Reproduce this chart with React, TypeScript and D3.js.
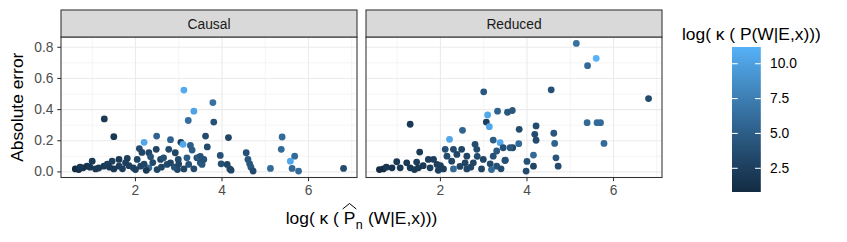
import { useEffect, useRef } from 'react';
import * as d3 from 'd3';

// facet labels and tick values
const facets = ['Causal', 'Reduced'];
const xTicks = [2, 4, 6];
const yTicks = [0, 0.2, 0.4, 0.6, 0.8];
const colourTicks = [2.5, 5, 7.5, 10];

// Causal panel: log kappa(P_n) , absolute error, log kappa(P)
const causalX = [
  3.12, 3.79, 3.35, 3.22, 3.81, 1.28, 1.5, 2.49, 2.2, 2.81, 3.05, 3.1, 3.62, 3.66, 3.27, 3.31,
  2.48, 2.09, 2.15, 2.31, 2.35, 2.77, 2.92, 2.99, 3.19, 3.42, 3.48, 3.5, 3.54, 3.23, 3.35, 2.97,
  2.73, 2.58, 2.65, 2.31, 2.12, 1.95, 1.81, 1.77, 1.62, 1.62, 1.46, 1.5, 1.27, 1.35, 1.0, 1.08,
  0.88, 0.79, 0.61, 0.69, 0.72, 0.95, 2.04, 2.5, 2.81, 3.12, 3.58, 1.7, 1.85, 2.2, 2.4, 2.6,
  2.9, 1.4, 1.15, 2.0, 2.25, 3.0, 3.5, 3.96, 3.98, 4.12, 4.15, 4.18, 4.21, 4.56, 4.6, 4.64,
  4.67, 4.72, 5.12, 5.39, 5.37, 5.68, 5.58, 5.62, 5.77, 6.81,
];
const causalY = [
  0.525, 0.445, 0.39, 0.33, 0.32, 0.34, 0.226, 0.23, 0.19, 0.207, 0.19, 0.177, 0.23, 0.16, 0.17, 0.14,
  0.145, 0.15, 0.125, 0.123, 0.097, 0.145, 0.123, 0.08, 0.09, 0.09, 0.095, 0.058, 0.048, 0.048, 0.02, 0.015,
  0.048, 0.08, 0.09, 0.026, 0.037, 0.026, 0.086, 0.058, 0.037, 0.08, 0.069, 0.019, 0.037, 0.05, 0.069, 0.019,
  0.037, 0.026, 0.019, 0.015, 0.03, 0.03, 0.08, 0.015, 0.058, 0.019, 0.08, 0.02, 0.04, 0.05, 0.06, 0.03,
  0.03, 0.03, 0.025, 0.015, 0.01, 0.05, 0.1, 0.106, 0.052, 0.048, 0.22, 0.019, 0.011, 0.123, 0.08, 0.052,
  0.03, 0.005, 0.022, 0.224, 0.145, 0.101, 0.069, 0.022, 0.005, 0.022,
];
const causalC = [
  10.8, 6.5, 10.2, 6.3, 4.0, 2.0, 2.0, 5.5, 10.5, 5.5, 2.5, 10.5, 3.5, 3.5, 5.0, 5.0,
  3.0, 3.5, 3.0, 3.0, 4.0, 3.5, 3.0, 3.5, 5.0, 4.0, 5.5, 4.0, 4.5, 4.0, 3.5, 3.0,
  3.5, 3.0, 4.0, 6.0, 3.0, 2.5, 2.5, 2.5, 2.5, 2.0, 2.5, 2.0, 2.0, 2.5, 2.0, 2.0,
  1.5, 1.2, 0.8, 1.0, 1.8, 1.8, 3.0, 3.0, 3.0, 3.0, 4.0, 2.5, 2.5, 3.0, 3.5, 3.0,
  4.0, 2.0, 2.0, 2.5, 2.0, 3.0, 4.0, 4.0, 4.0, 3.0, 3.0, 3.5, 3.0, 4.0, 4.5, 4.5,
  4.5, 3.5, 6.0, 6.0, 6.0, 6.0, 10.5, 6.0, 6.0, 3.5,
];

// Reduced panel
const reducedX = [
  3.0, 3.32, 3.55, 3.66, 3.09, 3.06, 3.13, 3.82, 1.3, 2.51, 2.21, 3.22, 3.38, 5.14, 5.6, 5.4,
  4.56, 6.81, 5.39, 5.62, 5.7, 4.21, 4.18, 4.21, 4.62, 4.64, 3.81, 3.67, 5.78, 4.15, 4.67, 4.0,
  4.15, 4.72, 3.98, 3.5, 3.61, 3.45, 2.11, 2.3, 2.49, 2.8, 2.84, 1.52, 2.15, 2.38, 2.61, 3.22,
  3.3, 2.99, 3.49, 0.99, 1.45, 1.72, 1.84, 1.92, 2.26, 2.57, 2.76, 3.15, 3.3, 2.3, 3.18, 2.95,
  2.61, 2.07, 1.76, 1.49, 1.3, 1.07, 0.88, 0.68, 0.59, 1.22, 0.75, 1.6, 2.0, 2.45, 2.7, 2.85,
  1.95, 1.4, 3.4,
];
const reducedY = [
  0.514, 0.39, 0.383, 0.394, 0.366, 0.32, 0.29, 0.273, 0.306, 0.267, 0.209, 0.204, 0.187, 0.825, 0.729, 0.682,
  0.527, 0.471, 0.316, 0.316, 0.316, 0.295, 0.241, 0.203, 0.248, 0.183, 0.181, 0.155, 0.183, 0.108, 0.09, 0.067,
  0.037, 0.037, 0.005, 0.075, 0.155, 0.155, 0.145, 0.145, 0.145, 0.177, 0.145, 0.127, 0.101, 0.112, 0.101, 0.101,
  0.134, 0.08, 0.073, 0.065, 0.063, 0.08, 0.08, 0.048, 0.069, 0.058, 0.058, 0.052, 0.037, 0.019, 0.015, 0.019,
  0.019, 0.019, 0.026, 0.026, 0.026, 0.026, 0.026, 0.019, 0.015, 0.058, 0.03, 0.04, 0.04, 0.035, 0.03, 0.1,
  0.01, 0.015, 0.02,
];
const reducedC = [
  4.5, 5.5, 4.5, 4.5, 10.5, 2.5, 10.5, 3.5, 2.0, 5.5, 10.5, 5.0, 10.5, 6.5, 11.2, 6.0,
  4.0, 3.5, 6.0, 6.0, 6.0, 3.5, 3.5, 3.5, 4.5, 5.5, 6.0, 3.0, 6.0, 6.0, 4.5, 4.0,
  3.0, 3.5, 3.5, 4.0, 4.5, 4.0, 4.0, 3.5, 3.0, 3.5, 3.5, 2.0, 3.5, 3.0, 3.0, 4.0,
  4.5, 3.0, 4.0, 2.0, 2.5, 2.5, 2.5, 2.5, 3.0, 3.0, 3.0, 3.5, 4.0, 6.0, 6.0, 3.0,
  3.0, 2.5, 2.5, 2.0, 2.0, 2.0, 1.5, 1.0, 0.8, 2.0, 1.8, 2.0, 2.5, 3.0, 3.0, 3.5,
  2.5, 2.0, 3.5,
];

const W = 847;
const H = 242;
const FONT = '"Liberation Sans", Arial, Helvetica, sans-serif';
const SMALL = '13.8px';
const BIG = '17.4px';
const NB = '\u00A0';

export default function App() {
  const svgRef = useRef<SVGSVGElement>(null);

  useEffect(() => {
    if (!svgRef.current) return;
    const svg = d3.select(svgRef.current);
    svg.selectAll('*').remove();

    const panels = [
      { name: facets[0], xs: causalX, ys: causalY, cs: causalC },
      { name: facets[1], xs: reducedX, ys: reducedY, cs: reducedC },
    ];

    const allX = [...causalX, ...reducedX];
    const allY = [...causalY, ...reducedY];
    const allC = [...causalC, ...reducedC];

    const expand = (ext: [number, number]) => {
      const pad = (ext[1] - ext[0]) * 0.05;
      return [ext[0] - pad, ext[1] + pad];
    };

    const panelLeft = 61;
    const panelW = 296;
    const gap = 9;
    const stripTop = 10;
    const panelTop = 37;
    const panelBottom = 177.5;

    const x = d3.scaleLinear()
      .domain(expand(d3.extent(allX) as [number, number]))
      .range([0, panelW]);
    const y = d3.scaleLinear()
      .domain(expand(d3.extent(allY) as [number, number]))
      .range([panelBottom, panelTop]);
    const cExt = d3.extent(allC) as [number, number];
    const colour = d3.scaleLinear<string>()
      .domain(cExt)
      .range(['#132B43', '#56B1F7'])
      .interpolate(d3.interpolateLab);

    const xMinor = [1, 3, 5, 7];
    const yMinor = [0.1, 0.3, 0.5, 0.7];

    panels.forEach((p, i) => {
      const ox = panelLeft + i * (panelW + gap);
      const g = svg.append('g').attr('transform', `translate(${ox},0)`);

      g.append('rect')
        .attr('x', 0).attr('y', panelTop)
        .attr('width', panelW).attr('height', panelBottom - panelTop)
        .attr('fill', 'white');

      // minor grid
      xMinor.filter(v => x(v) > 0 && x(v) < panelW).forEach(v => {
        g.append('line')
          .attr('x1', x(v)).attr('x2', x(v))
          .attr('y1', panelTop).attr('y2', panelBottom)
          .attr('stroke', '#EBEBEB').attr('stroke-width', 0.55);
      });
      yMinor.forEach(v => {
        g.append('line')
          .attr('x1', 0).attr('x2', panelW)
          .attr('y1', y(v)).attr('y2', y(v))
          .attr('stroke', '#EBEBEB').attr('stroke-width', 0.55);
      });
      // major grid
      xTicks.forEach(v => {
        g.append('line')
          .attr('x1', x(v)).attr('x2', x(v))
          .attr('y1', panelTop).attr('y2', panelBottom)
          .attr('stroke', '#EBEBEB').attr('stroke-width', 1.1);
      });
      yTicks.forEach(v => {
        g.append('line')
          .attr('x1', 0).attr('x2', panelW)
          .attr('y1', y(v)).attr('y2', y(v))
          .attr('stroke', '#EBEBEB').attr('stroke-width', 1.1);
      });

      // points
      p.xs.forEach((xv, j) => {
        g.append('circle')
          .attr('cx', x(xv))
          .attr('cy', y(p.ys[j]))
          .attr('r', 3.4)
          .attr('fill', colour(p.cs[j]));
      });

      // border
      g.append('rect')
        .attr('x', 0).attr('y', panelTop)
        .attr('width', panelW).attr('height', panelBottom - panelTop)
        .attr('fill', 'none').attr('stroke', '#333333').attr('stroke-width', 1.07);

      // strip
      g.append('rect')
        .attr('x', 0).attr('y', stripTop)
        .attr('width', panelW).attr('height', panelTop - stripTop)
        .attr('fill', '#D9D9D9').attr('stroke', '#333333').attr('stroke-width', 1.07);
      g.append('text')
        .attr('x', panelW / 2).attr('y', (stripTop + panelTop) / 2 + 0.5)
        .attr('text-anchor', 'middle').attr('dominant-baseline', 'central')
        .attr('font-size', SMALL).attr('fill', '#1A1A1A')
        .text(p.name);

      // x axis
      xTicks.forEach(v => {
        g.append('line')
          .attr('x1', x(v)).attr('x2', x(v))
          .attr('y1', panelBottom).attr('y2', panelBottom + 3.7)
          .attr('stroke', '#333333').attr('stroke-width', 1.07);
        g.append('text')
          .attr('x', x(v)).attr('y', panelBottom + 17)
          .attr('text-anchor', 'middle')
          .attr('font-size', SMALL).attr('fill', '#4D4D4D')
          .text(d3.format('d')(v));
      });

      // y axis on first panel only
      if (i === 0) {
        yTicks.forEach(v => {
          g.append('line')
            .attr('x1', -3.7).attr('x2', 0)
            .attr('y1', y(v)).attr('y2', y(v))
            .attr('stroke', '#333333').attr('stroke-width', 1.07);
          g.append('text')
            .attr('x', -7.5).attr('y', y(v))
            .attr('text-anchor', 'end').attr('dominant-baseline', 'central')
            .attr('font-size', SMALL).attr('fill', '#4D4D4D')
            .text(d3.format('.1f')(v));
        });
      }
    });

    // y title
    svg.append('text')
      .attr('transform', `translate(23,${(panelTop + panelBottom) / 2}) rotate(-90)`)
      .attr('text-anchor', 'middle')
      .attr('font-size', BIG).attr('fill', 'black')
      .text('Absolute error');

    // x title with hat-P and subscript n
    const cx = panelLeft + (2 * panelW + gap) / 2;
    const base = 224;
    const xt = svg.append('g').attr('font-size', BIG).attr('fill', 'black');
    const t1 = xt.append('text').attr('y', base).text(`log(${NB}\u03BA${NB}(${NB}`);
    const tP = xt.append('text').attr('y', base).text('P');
    const tn = xt.append('text').attr('y', base + 4.5).attr('font-size', '12.5px').text('n');
    const t3 = xt.append('text').attr('y', base).text(`${NB}(W|E,x)))`);
    const w1 = (t1.node() as SVGTextElement).getComputedTextLength();
    const wP = (tP.node() as SVGTextElement).getComputedTextLength();
    const wn = (tn.node() as SVGTextElement).getComputedTextLength();
    const w3 = (t3.node() as SVGTextElement).getComputedTextLength();
    const total = w1 + wP + wn + 1 + w3;
    let sx = cx - total / 2;
    t1.attr('x', sx); sx += w1;
    const px = sx;
    tP.attr('x', sx); sx += wP;
    tn.attr('x', sx + 0.5); sx += wn + 1;
    t3.attr('x', sx);
    xt.append('path')
      .attr('d', `M${px - 1},${base - 15} L${px + wP / 2},${base - 20.5} L${px + wP + 1},${base - 15}`)
      .attr('fill', 'none').attr('stroke', 'black').attr('stroke-width', 1);

    // legend
    const barX = 732;
    const barW = 28.8;
    const barTop = 47;
    const barBottom = 192;
    svg.append('text')
      .attr('x', 682).attr('y', 40)
      .attr('font-size', BIG).attr('fill', 'black')
      .text(`log(${NB}\u03BA${NB}(${NB}P(W|E,x)))`);

    const defs = svg.append('defs');
    const grad = defs.append('linearGradient')
      .attr('id', 'cbar').attr('x1', 0).attr('x2', 0).attr('y1', 1).attr('y2', 0);
    d3.range(0, 1.0001, 0.05).forEach(t => {
      grad.append('stop')
        .attr('offset', t)
        .attr('stop-color', colour(cExt[0] + t * (cExt[1] - cExt[0])));
    });
    svg.append('rect')
      .attr('x', barX).attr('y', barTop)
      .attr('width', barW).attr('height', barBottom - barTop)
      .attr('fill', 'url(#cbar)');

    const cy = d3.scaleLinear().domain(cExt).range([barBottom, barTop]);
    colourTicks.forEach(v => {
      svg.append('line')
        .attr('x1', barX).attr('x2', barX + barW / 5)
        .attr('y1', cy(v)).attr('y2', cy(v))
        .attr('stroke', 'white').attr('stroke-width', 1.07);
      svg.append('line')
        .attr('x1', barX + barW - barW / 5).attr('x2', barX + barW)
        .attr('y1', cy(v)).attr('y2', cy(v))
        .attr('stroke', 'white').attr('stroke-width', 1.07);
      svg.append('text')
        .attr('x', 770).attr('y', cy(v))
        .attr('dominant-baseline', 'central')
        .attr('font-size', SMALL).attr('fill', 'black')
        .text(d3.format('.1f')(v));
    });
  }, []);

  return (
    <svg
      ref={svgRef}
      width={W}
      height={H}
      style={{ position: 'absolute', left: 0, top: 0, background: 'white', fontFamily: FONT }}
    />
  );
}
